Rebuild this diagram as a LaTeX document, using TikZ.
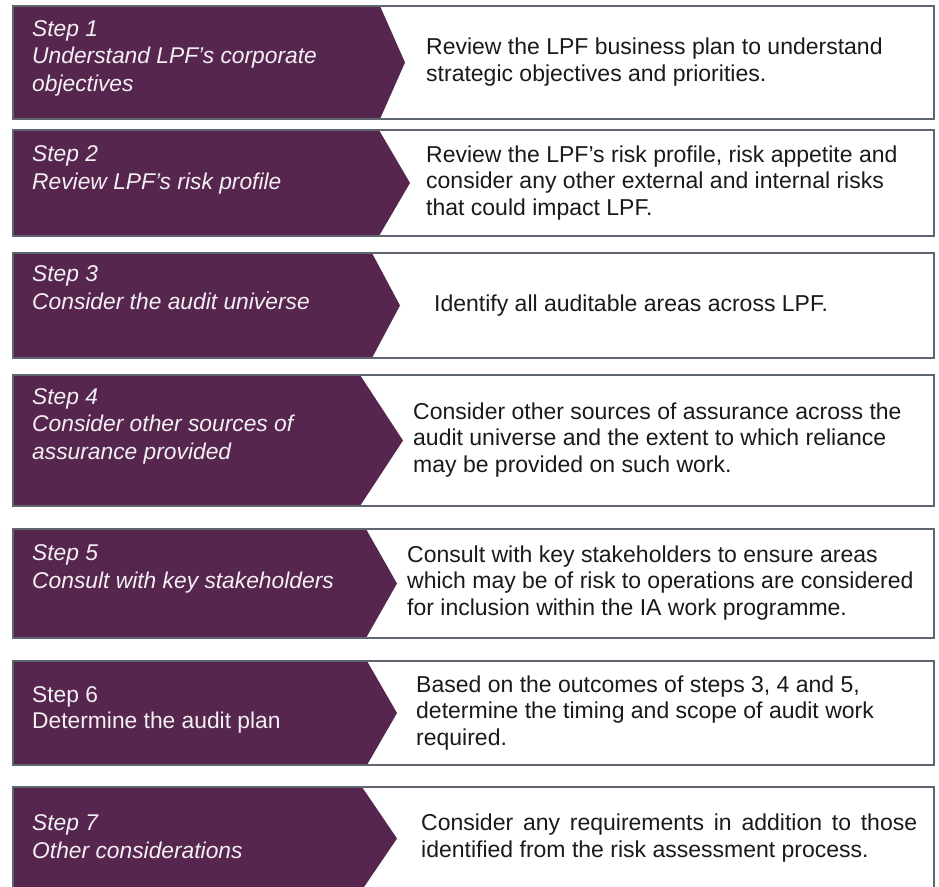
\documentclass[tikz,border=0pt]{standalone}
\usepackage{fontspec}
\setmainfont{Liberation Sans}
\definecolor{plum}{HTML}{57264F}
\definecolor{framegray}{HTML}{5F6670}
\definecolor{txtwhite}{HTML}{F2F0F2}
\definecolor{txtdark}{HTML}{1A1A1A}
\newcommand\steprow[4]{%
  \fill[white] (13,#1) rectangle (934,#2);
  \fill[plum] (13,#1) -- (#3,#1) -- (#4,{(#1+#2)/2}) -- (#3,#2) -- (13,#2) -- cycle;
  \draw[rowframe] (13,#1) rectangle (934,#2);
}
\begin{document}
\begin{tikzpicture}[x=1pt,y=-1pt,
  rowframe/.style={draw=framegray,line width=1.3pt},
  lefttext/.style={anchor=base west,align=left,text=txtwhite,inner sep=0pt,
    font=\fontsize{22.8}{27.5}\selectfont\itshape},
  leftplain/.style={lefttext,font=\fontsize{22.8}{25.5}\selectfont},
  righttext/.style={anchor=west,align=left,text=txtdark,inner sep=0pt,
    font=\fontsize{23}{26.5}\selectfont}]
\useasboundingbox (0,0) rectangle (939,886);
\steprow{6}{119}{380}{405}
\steprow{130}{236}{379}{410}
\steprow{253}{358}{372}{400}
\steprow{375}{506}{360}{403}
\steprow{529}{638}{366}{397}
\steprow{661}{765}{367}{397}
\steprow{787}{890}{362}{397}
% left texts (anchor at baseline of last line)
\node[lefttext] (l1) at (32,91) {Step 1\\Understand LPF’s corporate\\objectives};
\node[lefttext] (l2) at (32,189) {Step 2\\Review LPF’s risk profile};
\node[lefttext] (l3) at (32,309) {Step 3\\Consider the audit universe};
\node[lefttext] (l4) at (32,459) {Step 4\\Consider other sources of\\assurance provided};
\node[lefttext] (l5) at (32,588) {Step 5\\Consult with key stakeholders};
\node[leftplain] (l6) at (32,728) {Step 6\\Determine the audit plan};
\node[lefttext] (l7) at (32,858) {Step 7\\Other considerations};
\fill[txtwhite] (268,292) circle (1.1);
% right texts
\node[righttext] (r1) at (426,62) {Review the LPF business plan to understand\\strategic objectives and priorities.};
\node[righttext] (r2) at (426,183) {Review the LPF’s risk profile, risk appetite and\\consider any other external and internal risks\\that could impact LPF.};
\node[righttext] (r3) at (434,306) {Identify all auditable areas across LPF.};
\node[righttext] (r4) at (413,440) {Consider other sources of assurance across the\\audit universe and the extent to which reliance\\may be provided on such work.};
\node[righttext] (r5) at (407,583) {Consult with key stakeholders to ensure areas\\which may be of risk to operations are considered\\for inclusion within the IA work programme.};
\node[righttext] (r6) at (416,713) {Based on the outcomes of steps 3, 4 and 5,\\determine the timing and scope of audit work\\required.};
\node[righttext,text width=496pt,align=justify] (r7) at (421,838) {Consider any requirements in addition to those identified from the risk assessment process.};
\end{tikzpicture}
\end{document}
